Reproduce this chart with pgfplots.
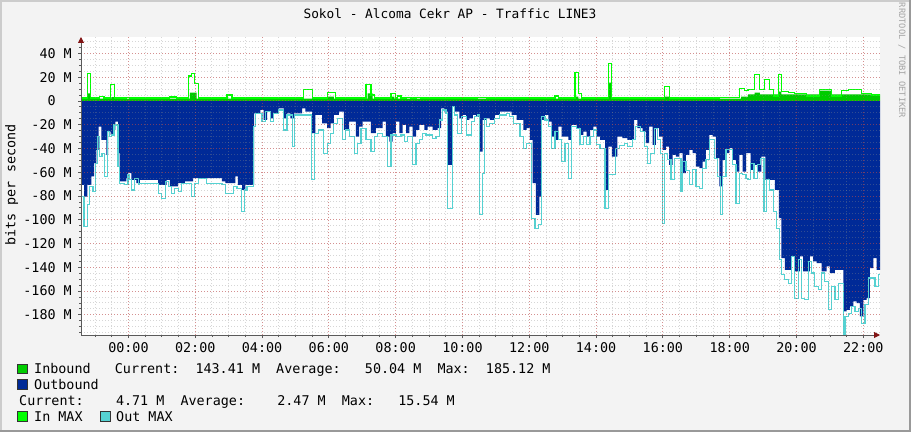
\documentclass[border=0pt]{standalone}
\usepackage{pgfplots}
\pgfplotsset{compat=1.18}
\usepackage{pgfplotstable}
\usetikzlibrary{arrows.meta}
\usepackage{fontspec}
\setmainfont{DejaVu Sans Mono}
\definecolor{bgc}{RGB}{243,243,243}
\definecolor{inc}{RGB}{0,204,0}
\definecolor{inmaxc}{RGB}{0,255,0}
\definecolor{outc}{RGB}{0,42,151}
\definecolor{outmaxc}{RGB}{85,210,210}
\definecolor{mingrid}{RGB}{140,140,140}
\definecolor{majgrid}{RGB}{210,40,40}
\definecolor{axisc}{RGB}{90,90,90}
\definecolor{arrowc}{RGB}{130,20,20}

\pgfplotstableread{
h v
-1.42 -70.6
-1.33 -80.5
-1.23 -70.6
-1.11 -63.6
-1.03 -52.4
-0.96 -41.2
-0.89 -21.6
-0.81 -32.8
-0.66 -45.4
-0.61 -25.8
-0.53 -28.6
-0.46 -24.4
-0.39 -17.4
-0.31 -44.0
-0.26 -67.8
-0.06 -65.0
-0.01 -60.8
0.09 -66.4
0.24 -69.2
0.34 -66.4
0.89 -70.6
1.14 -66.4
1.24 -72.0
1.49 -69.2
1.69 -67.8
1.94 -65.0
2.80 -67.8
2.90 -69.2
3.20 -63.6
3.28 -70.6
3.40 -74.9
3.50 -70.6
3.76 -10.4
3.95 -7.6
4.05 -16.0
4.15 -9.0
4.25 -14.6
4.35 -10.4
4.50 -6.2
4.65 -14.6
4.75 -10.4
4.85 -14.6
4.95 -10.4
5.20 -6.2
5.30 -9.0
5.50 -27.2
5.60 -11.8
5.80 -18.8
5.95 -23.0
6.05 -18.8
6.15 -11.8
6.30 -9.0
6.45 -24.4
6.61 -17.4
6.81 -30.0
6.91 -21.6
7.01 -17.4
7.26 -27.2
7.41 -23.0
7.61 -17.4
7.71 -30.0
7.81 -34.2
7.91 -27.2
8.01 -17.4
8.11 -27.2
8.21 -20.2
8.31 -27.2
8.41 -21.6
8.51 -30.0
8.61 -24.4
8.71 -20.2
8.86 -24.4
8.96 -21.6
9.11 -24.4
9.26 -23.0
9.36 -6.2
9.46 -9.0
9.56 -53.8
9.69 -4.8
9.76 -9.0
9.91 -14.6
10.01 -11.8
10.11 -16.0
10.21 -14.6
10.31 -11.8
10.41 -13.2
10.51 -42.6
10.60 -16.0
10.70 -14.6
10.82 -16.0
10.97 -11.8
11.12 -9.0
11.47 -11.8
11.62 -16.0
11.82 -24.4
11.92 -23.0
12.02 -32.8
12.10 -69.2
12.20 -95.9
12.30 -80.5
12.37 -16.0
12.47 -11.8
12.57 -17.4
12.67 -30.0
12.77 -32.8
12.87 -21.6
12.97 -30.0
13.17 -32.8
13.27 -20.2
13.42 -23.0
13.52 -28.6
13.62 -25.8
13.72 -30.0
13.82 -24.4
13.92 -21.6
14.02 -30.0
14.12 -32.8
14.27 -74.9
14.37 -38.4
14.47 -46.8
14.64 -30.0
14.79 -31.4
14.94 -32.8
15.14 -16.0
15.24 -23.0
15.39 -25.8
15.49 -35.6
15.59 -21.6
15.69 -37.0
15.79 -23.0
15.89 -30.0
15.99 -41.2
16.09 -38.4
16.19 -53.8
16.29 -45.4
16.39 -46.8
16.49 -44.0
16.59 -60.8
16.69 -45.4
16.79 -41.2
16.89 -44.0
16.99 -55.2
17.09 -56.6
17.19 -51.0
17.29 -41.2
17.39 -28.6
17.49 -30.0
17.59 -48.2
17.69 -72.0
17.79 -49.6
17.89 -44.0
17.99 -39.8
18.09 -49.6
18.19 -59.4
18.29 -45.4
18.39 -59.4
18.49 -44.0
18.63 -58.0
18.73 -53.8
18.85 -59.4
18.95 -46.8
19.07 -66.4
19.35 -74.9
19.47 -98.7
19.55 -132.3
19.65 -142.1
19.85 -130.9
19.95 -143.5
20.10 -130.9
20.20 -143.5
20.40 -130.9
20.50 -135.1
20.60 -136.5
20.75 -143.5
20.90 -139.3
21.00 -144.9
21.15 -142.1
21.40 -177.2
21.50 -175.8
21.60 -173.0
21.70 -168.8
21.80 -170.2
21.90 -181.4
22.00 -167.4
22.10 -166.0
22.20 -140.7
22.30 -132.3
22.40 -142.1
22.50 -142.1
}\outbound

\pgfplotstableread{
h v
-1.42 -80.5
-1.33 -105.7
-1.23 -87.5
-1.16 -72.0
-1.06 -76.3
-0.99 -52.4
-0.93 -30.0
-0.86 -47.0
-0.79 -44.0
-0.71 -63.6
-0.63 -25.8
-0.56 -30.0
-0.51 -28.6
-0.43 -20.2
-0.31 -55.2
-0.26 -69.2
-0.11 -70.6
-0.01 -62.2
0.04 -66.4
0.09 -74.9
0.19 -65.0
0.29 -70.6
0.34 -69.2
0.89 -77.7
0.99 -81.9
1.11 -67.8
1.19 -72.0
1.29 -77.7
1.39 -73.5
1.49 -76.3
1.59 -69.2
1.89 -80.5
1.97 -69.2
2.09 -65.0
2.34 -69.2
2.80 -70.6
2.90 -77.7
3.15 -72.0
3.25 -73.5
3.38 -93.1
3.48 -74.9
3.55 -72.0
3.75 -21.6
3.80 -10.4
4.00 -17.4
4.10 -9.0
4.25 -17.4
4.35 -10.4
4.50 -7.6
4.65 -24.4
4.75 -11.8
4.90 -38.4
4.98 -11.8
5.48 -66.4
5.58 -27.2
5.70 -24.4
5.85 -44.0
5.95 -35.6
6.05 -27.2
6.15 -18.8
6.25 -14.6
6.40 -32.8
6.51 -24.4
6.61 -30.0
6.76 -44.0
6.86 -35.6
6.96 -23.0
7.11 -32.8
7.26 -42.6
7.36 -30.0
7.46 -27.2
7.61 -30.0
7.76 -55.2
7.86 -28.6
8.01 -30.0
8.16 -28.6
8.26 -34.2
8.36 -30.0
8.51 -53.8
8.61 -35.6
8.71 -32.8
8.81 -27.2
8.91 -28.6
9.11 -31.4
9.21 -30.0
9.31 -16.0
9.41 -7.6
9.51 -10.4
9.56 -90.3
9.69 -4.8
9.76 -11.8
9.86 -27.2
9.96 -13.2
10.11 -28.6
10.26 -17.4
10.36 -13.2
10.46 -11.8
10.51 -95.9
10.60 -60.8
10.67 -14.6
10.72 -21.6
10.82 -18.8
10.97 -14.6
11.12 -11.8
11.32 -10.4
11.42 -13.2
11.52 -18.8
11.72 -30.0
11.82 -39.8
11.92 -35.6
12.07 -98.7
12.17 -107.1
12.27 -104.3
12.37 -13.2
12.47 -16.0
12.57 -21.6
12.67 -39.8
12.77 -25.8
12.87 -32.8
12.97 -51.0
13.07 -35.6
13.17 -65.0
13.27 -21.6
13.42 -23.0
13.52 -37.0
13.62 -30.0
13.72 -37.0
13.82 -30.0
13.92 -24.4
14.02 -37.0
14.12 -39.8
14.27 -90.3
14.37 -62.2
14.59 -39.8
14.69 -37.8
14.84 -35.6
14.94 -38.4
15.09 -32.8
15.19 -21.6
15.34 -25.8
15.44 -38.4
15.54 -52.4
15.64 -44.0
15.74 -23.0
15.84 -32.8
15.94 -44.0
15.99 -102.9
16.04 -44.0
16.14 -49.6
16.24 -66.4
16.34 -48.2
16.54 -76.3
16.59 -51.0
16.69 -58.7
16.79 -70.6
16.89 -58.0
16.99 -72.0
17.09 -73.5
17.19 -56.6
17.29 -49.6
17.39 -32.8
17.54 -48.2
17.64 -63.6
17.72 -95.9
17.79 -63.6
17.89 -41.2
18.09 -53.8
18.19 -86.1
18.29 -60.8
18.39 -62.2
18.49 -65.0
18.55 -66.4
18.63 -52.4
18.73 -65.0
18.83 -53.8
18.93 -48.2
19.03 -93.1
19.10 -66.4
19.20 -74.9
19.30 -93.1
19.40 -107.1
19.50 -133.7
19.55 -146.3
19.65 -150.5
19.75 -153.4
19.85 -130.9
19.95 -166.0
20.05 -133.7
20.15 -166.0
20.25 -167.4
20.35 -135.1
20.45 -144.9
20.55 -156.2
20.65 -159.0
20.75 -144.9
20.85 -151.9
20.95 -175.8
21.05 -156.2
21.15 -167.4
21.25 -153.4
21.40 -196.8
21.45 -181.4
21.55 -178.6
21.65 -173.0
21.75 -177.2
21.85 -174.4
21.95 -187.0
22.05 -171.6
22.15 -149.1
22.35 -156.2
22.45 -146.3
22.50 -146.3
}\outmax

\pgfplotstableread{
h v
-1.42 2.0
-1.23 6.4
-1.13 2.0
-0.51 3.1
-0.41 2.0
1.84 7.0
2.04 2.0
5.95 3.6
6.15 2.0
7.16 6.4
7.31 2.0
7.86 3.6
7.96 2.0
13.37 3.6
13.47 2.0
14.37 15.4
14.47 2.0
16.04 3.6
16.19 2.0
18.34 3.6
18.55 5.6
18.75 7.0
18.90 5.6
19.45 7.8
19.55 5.6
20.70 8.7
21.05 5.6
22.50 5.6
}\inbound

\pgfplotstableread{
h v
-1.42 2.5
-1.23 23.3
-1.13 2.5
-0.86 3.6
-0.73 2.5
-0.54 13.5
-0.41 2.5
-0.06 3.0
0.04 2.5
1.24 3.3
1.44 2.5
1.79 21.0
1.89 23.3
1.97 14.9
2.09 2.5
2.95 5.0
3.10 2.5
5.25 9.8
5.50 2.5
5.95 7.3
6.20 2.5
7.11 14.0
7.26 5.0
7.36 2.5
7.86 6.4
7.99 2.5
8.06 4.2
8.16 2.5
8.31 2.9
8.46 2.5
8.61 3.1
8.76 2.5
10.46 2.9
10.72 2.5
12.77 4.2
12.87 2.5
13.37 24.1
13.47 6.4
13.57 2.5
14.37 31.7
14.47 2.5
16.04 12.1
16.19 2.5
17.70 3.0
18.29 10.7
18.44 8.7
18.55 9.3
18.75 22.4
18.90 9.3
19.05 18.2
19.20 9.8
19.30 4.2
19.45 22.4
19.55 7.8
19.75 7.0
19.95 6.4
20.30 4.2
20.70 9.8
21.05 4.2
21.35 8.7
21.55 9.8
21.95 6.4
22.25 5.0
22.50 5.0
}\inmax

\begin{document}
\fontsize{13.4pt}{16pt}\selectfont
\begin{tikzpicture}[x=1pt,y=1pt]
\path[use as bounding box] (0,0) rectangle (911,432);
\fill[bgc] (0,0) rectangle (911,432);
\fill[black!20] (0,430) rectangle (911,432);
\fill[black!20] (0,0) rectangle (2,432);
\fill[black!40] (0,0) rectangle (911,2);
\fill[black!40] (909,0) rectangle (911,432);

\begin{axis}[
  at={(81pt,97pt)}, anchor=south west,
  scale only axis, width=799pt, height=298pt,
  xmin=-1.42, xmax=22.5, ymin=-197, ymax=53.8,
  axis background/.style={fill=white},
  axis x line=bottom, axis y line=left,
  axis line style={draw=axisc, line width=0.9pt},
  x axis line style={-{Triangle[length=6pt,width=6pt,color=arrowc]}},
  y axis line style={-{Triangle[length=6pt,width=6pt,color=arrowc]}},
  axis on top,
  xtick={0,2,4,6,8,10,12,14,16,18,20,22},
  xticklabels={00:00,02:00,04:00,06:00,08:00,10:00,12:00,14:00,16:00,18:00,20:00,22:00},
  minor xtick={-1,-0.5,0,0.5,1,1.5,2,2.5,3,3.5,4,4.5,5,5.5,6,6.5,7,7.5,8,8.5,9,9.5,10,10.5,11,11.5,12,12.5,13,13.5,14,14.5,15,15.5,16,16.5,17,17.5,18,18.5,19,19.5,20,20.5,21,21.5,22},
  ytick={-180,-160,-140,-120,-100,-80,-60,-40,-20,0,20,40},
  yticklabels={-180 M,-160 M,-140 M,-120 M,-100 M,-80 M,-60 M,-40 M,-20 M,0\hphantom{MM},20 M,40 M},
  minor ytick={-195,-190,...,50},
  grid=both,
  major grid style={draw=majgrid, draw opacity=0.4, dash pattern=on 1pt off 2pt, line width=0.9pt},
  minor grid style={draw=mingrid, draw opacity=0.35, dash pattern=on 1pt off 2pt, line width=0.9pt},
  tick align=outside,
  major tick length=3pt, minor tick length=2pt,
  tick style={draw=axisc, line width=0.8pt},
  xticklabel style={anchor=north, inner sep=0pt, text height=9.8pt, text depth=0pt, yshift=-4pt},
  yticklabel style={anchor=east, inner sep=0pt, text height=9.8pt, text depth=0pt, xshift=-6pt},
]
\addplot[const plot, fill=outc, draw=none] table[x=h,y=v] {\outbound} \closedcycle;
\addplot[const plot, fill=inc, draw=none] table[x=h,y=v] {\inbound} \closedcycle;
\addplot[const plot, draw=outmaxc, line width=1.2pt] table[x=h,y=v] {\outmax};
\addplot[const plot, draw=inmaxc, line width=1.2pt] table[x=h,y=v] {\inmax};
\end{axis}

% title
\node[anchor=base, inner sep=0pt, font=\fontsize{12.8pt}{15pt}\selectfont] at (450,413) {Sokol - Alcoma Cekr AP - Traffic LINE3};
% y label
\node[anchor=base, rotate=90, inner sep=0pt] at (15.5,247) {bits per second};
% watermark
\node[anchor=base, rotate=-90, inner sep=0pt, text={rgb,255:red,165;green,165;blue,165}, font=\fontsize{8.7pt}{10pt}\selectfont] at (899,371.5) {RRDTOOL / TOBI OETIKER};

% legend
\filldraw[fill=inc, draw=black!80, line width=0.8pt] (17.5,58.7) rectangle (27.5,68);
\node[anchor=base west, inner sep=0pt] at (34,58.7) {Inbound\ \ \ Current:\ \ 143.41 M\ \ Average:\ \ \ 50.04 M\ \ Max:\ \ 185.12 M};
\filldraw[fill=outc, draw=black!80, line width=0.8pt] (17.5,43) rectangle (27.5,52.3);
\node[anchor=base west, inner sep=0pt] at (34,43) {Outbound};
\node[anchor=base west, inner sep=0pt] at (19,26.7) {Current:\ \ \ \ 4.71 M\ \ Average:\ \ \ \ 2.47 M\ \ Max:\ \ \ 15.54 M};
\filldraw[fill=inmaxc, draw=black!80, line width=0.8pt] (17.5,11) rectangle (27.5,20.3);
\node[anchor=base west, inner sep=0pt] at (34,11) {In MAX};
\filldraw[fill=outmaxc, draw=black!80, line width=0.8pt] (100,11) rectangle (110,20.3);
\node[anchor=base west, inner sep=0pt] at (116,11) {Out MAX};
\end{tikzpicture}
\end{document}
